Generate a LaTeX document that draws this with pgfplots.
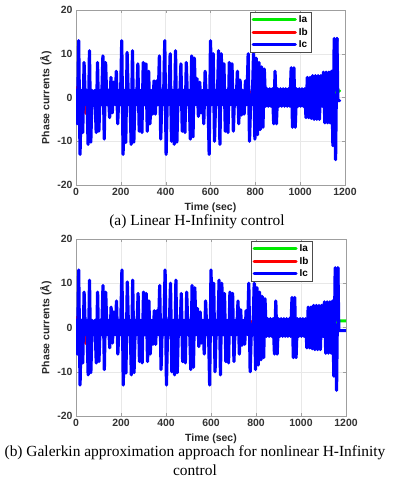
\documentclass[border=0pt]{standalone}
\usepackage{pgfplots}
\pgfplotsset{compat=1.18}
\usepackage{pgfplotstable}
\usepackage{fontspec}
\setmainfont{Liberation Serif}
\newfontfamily\axisfont{Liberation Sans}

\definecolor{ia}{RGB}{0,235,0}
\definecolor{ib}{RGB}{255,0,0}
\definecolor{ic}{RGB}{0,0,255}

% phase current Ic, envelope (zigzag, 6 s step)
\pgfplotstableread[row sep=\\]{t y\\
0 1.6\\6 -6\\12 13\\18 -13\\24 1.6\\30 -8\\36 8\\42 -1.6\\48 1.6\\54 -10.7\\
60 10.7\\66 -10.2\\72 1.6\\78 -1.6\\84 1.6\\90 -8\\96 8\\102 -7.7\\108 1.6\\114 -1.6\\
120 9.5\\126 -9.5\\132 8\\138 -1.6\\144 1.6\\150 -4.6\\156 4.6\\162 -3.5\\168 3.5\\174 -1.6\\
180 6\\186 -6\\192 1.6\\198 -1.6\\204 13\\210 -13\\216 1.6\\222 -10.3\\228 10.3\\234 -1.6\\
240 1.6\\246 -10.7\\252 10.7\\258 -10.2\\264 1.6\\270 -1.6\\276 7.7\\282 -7.7\\288 1.6\\294 -8\\
300 8\\306 -1.6\\312 7.7\\318 -7.7\\324 6\\330 -6\\336 1.6\\342 -3.8\\348 3.8\\354 -3.8\\
360 3.8\\366 -1.6\\372 9.5\\378 -9.5\\384 1.6\\390 -1.6\\396 13\\402 -13\\408 1.6\\414 -1.6\\
420 10\\426 -10\\432 1.6\\438 -10.7\\444 10.7\\450 -10.2\\456 1.6\\462 -1.6\\468 7.7\\474 -7.7\\
480 1.6\\486 -8\\492 8\\498 -1.6\\504 1.6\\510 -9.5\\516 9.5\\522 -9\\528 9\\534 -1.6\\
540 4.3\\546 -4.3\\552 3.5\\558 -3.5\\564 1.6\\570 -6\\576 6\\582 -1.6\\588 1.6\\594 -13\\
600 13\\606 -1.6\\612 10\\618 -10\\624 1.6\\630 -1.6\\636 10.7\\642 -10.7\\648 10\\654 -1.6\\
660 7.7\\666 -7.7\\672 1.6\\678 -8\\684 8\\690 -1.6\\696 7.7\\702 -7.7\\708 1.6\\714 -1.6\\
720 6\\726 -6\\732 4\\738 -4\\744 1.6\\750 -3.8\\756 3.8\\762 -1.6\\768 10\\774 -10\\
780 0.6\\786 -1.6\\792 10\\798 -9.5\\804 9\\810 -8.5\\816 8\\822 -7.3\\828 7\\834 -6.8\\
840 6.5\\846 -2\\852 2\\858 -2\\864 2\\870 -2\\876 2\\882 -6\\888 6\\894 -6\\
900 2\\906 -2\\912 2\\918 -2\\924 2\\930 -2\\936 2\\942 -2\\948 2\\954 -2\\
960 6.8\\966 -6.8\\972 6.8\\978 -6.8\\984 2\\990 -2\\996 2\\1002 -2\\1008 2\\1014 -2\\
1020 2\\1026 -4.6\\1032 4.6\\1038 -4.6\\1044 4.6\\1050 -4.8\\1056 5\\1062 -5\\1068 5\\1074 -5\\
1080 5\\1086 -5\\1092 5\\1098 -2\\1104 5.8\\1110 -5.8\\1116 5.8\\1122 -5.8\\1128 5.8\\1134 -5.8\\
1140 6\\1146 -11\\1152 13.5\\1158 -14.2\\1164 13.5\\
}\icdata

\pgfplotstableread[row sep=\\]{t y\\
0 -1\\40 -1\\46 -2.6\\52 0.8\\785 0.8\\790 0\\800 -0.5\\806 1\\1164 1\\
}\iadata

\pgfplotstableread[row sep=\\]{t y\\
0 2.3\\6 -1\\38 -1\\44 -3.6\\50 0.5\\776 0.5\\781 1.3\\789 1.3\\794 0\\1164 0\\1168 -0.7\\
}\ibdata

\pgfplotsset{phase/.style={
  scale only axis, width=269bp,
  xmin=0, xmax=1200, ymin=-20, ymax=20,
  xtick={0,200,...,1200}, ytick={-20,-10,0,10,20},
  /pgf/number format/1000 sep={},
  grid=major, grid style={gray!18, line width=0.5pt},
  axis line style={gray!75}, tick style={gray!75},
  tick align=inside, major tick length=3bp,
  font=\axisfont\bfseries\fontsize{10.5}{12}\selectfont,
  tick label style={black!80, font=\axisfont\bfseries\fontsize{10.5}{12}\selectfont},
  /pgf/number format/assume math mode=true,
  xlabel={Time (sec)}, ylabel={Phase currents (Å)},
  xlabel style={at={(axis description cs:0.5,0)}, anchor=north, yshift=-14bp, black!85},
  ylabel style={at={(axis description cs:0,0.5)}, anchor=south, yshift=21bp, black!85},
  legend style={at={(0.875,0.989)}, anchor=north east,
    draw=black!70, fill=white, inner sep=1.5bp, row sep=0bp,
    font=\axisfont\bfseries\fontsize{10}{12}\selectfont},
  legend cell align=left,
  legend image code/.code={\draw[#1] (0bp,0bp) -- (42bp,0bp);},
  every axis plot/.append style={line width=3.2bp, line join=round, line cap=round},
}}

\begin{document}
\begin{tikzpicture}
\path (-76bp,185bp) rectangle (318bp,-295bp);

\begin{axis}[phase, height=175bp, at={(0bp,0bp)}, anchor=south west]
\addplot[ia] table {\iadata};
\addlegendentry{Ia}
\addplot[ib] table {\ibdata};
\addlegendentry{Ib}
\addplot[ic] table {\icdata};
\addlegendentry{Ic}
\addplot[ia, forget plot] coordinates {(1164,1) (1167,1.5) (1176,1.5)};
\addplot[ic, forget plot] coordinates {(1164,13.5) (1168,-0.7) (1176,-0.7)};
\end{axis}

\begin{axis}[phase, height=177bp, width=270bp, at={(0bp,-231bp)}, anchor=south west]
\addplot[ia] table {\iadata};
\addlegendentry{Ia}
\addplot[ib] table {\ibdata};
\addlegendentry{Ib}
\addplot[ic] table {\icdata};
\addlegendentry{Ic}
\addplot[ia, forget plot] coordinates {(1164,1) (1167,1.5) (1200,1.5)};
\addplot[ic, forget plot] coordinates {(1164,13.5) (1168,-0.7) (1200,-0.7)};
\end{axis}

\node[font=\fontsize{15.5}{18}\selectfont] at (121bp,-37bp) {(a) Linear H-Infinity control};
\node[font=\fontsize{15.5}{19}\selectfont, align=center] at (119bp,-275.5bp)
  {(b) Galerkin approximation approach for nonlinear H-Infinity\\control};
\end{tikzpicture}
\end{document}
